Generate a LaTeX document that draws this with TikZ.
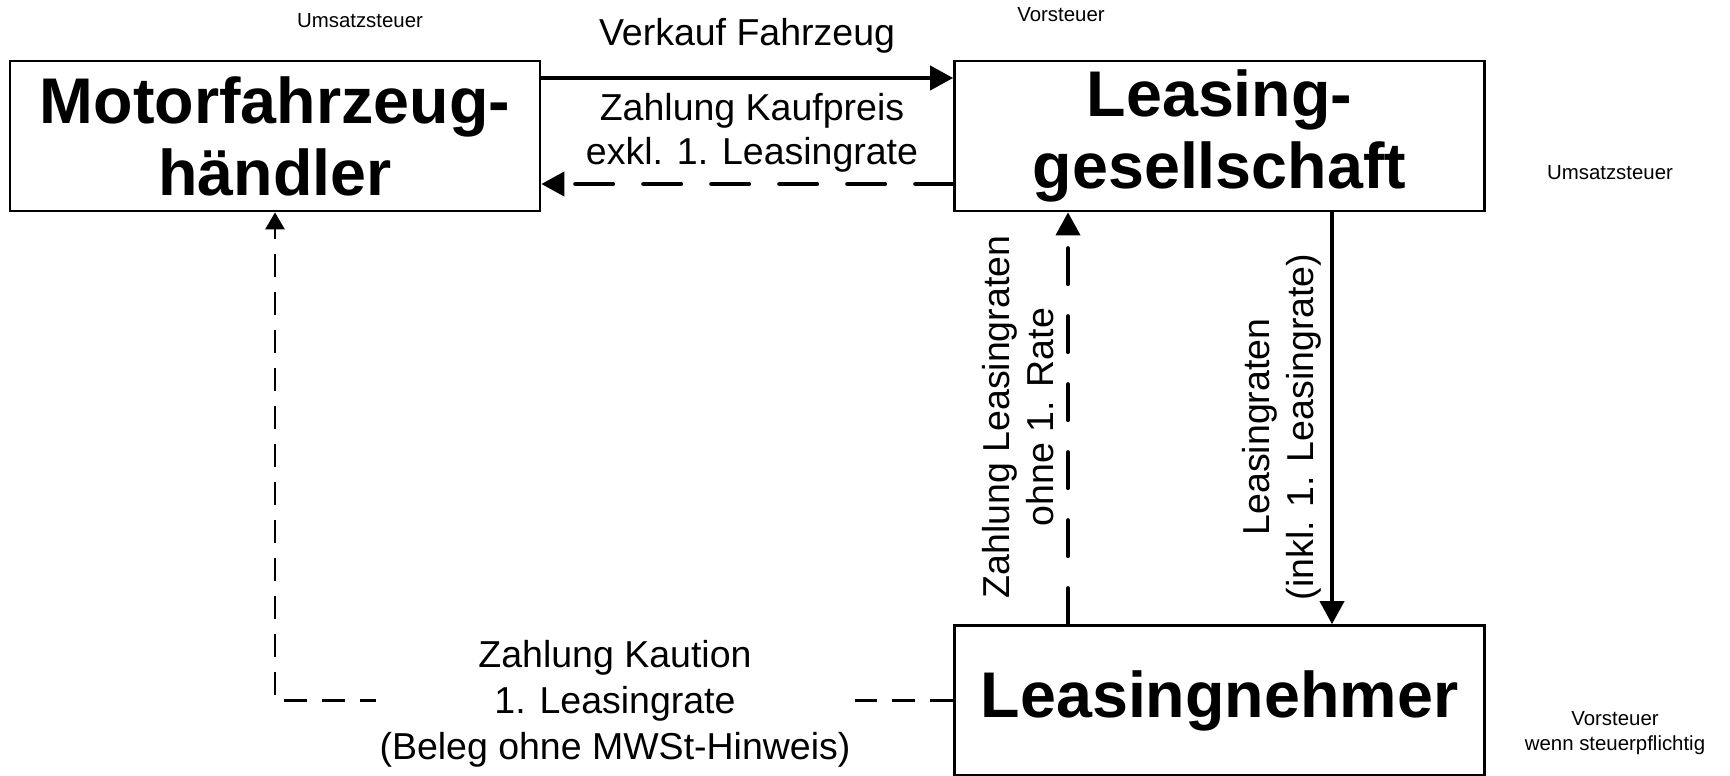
\documentclass[tikz,border=0pt]{standalone}
\usepackage{fontspec}
\setmainfont{Liberation Sans}
\usetikzlibrary{arrows.meta}

\begin{document}
\begin{tikzpicture}[x=0.5pt, y=-0.5pt,
  box/.style={draw, line width=1.35pt, minimum width=265pt, minimum height=75pt, align=center, inner sep=0pt, font=\fontsize{32.3}{36}\selectfont\bfseries},
  lbl/.style={align=center, inner sep=1pt, font=\fontsize{18.75}{22}\selectfont},
  klein/.style={align=center, inner sep=0pt, font=\fontsize{10.2}{12.5}\selectfont},
  fluss/.style={line width=2pt, -{Triangle[length=11.5pt,width=12pt]}},
  zahlung/.style={fluss, line cap=round, dash pattern=on 19pt off 15pt},
  kaution/.style={line width=1.35pt, dash pattern=on 11.5pt off 7.5pt, -{Triangle[length=8.5pt,width=9.5pt]}}]
\useasboundingbox (0,0) rectangle (1730,776);
\node[box] (haendler) at (275,136) {Motorfahrzeug-\\händler};
\node[box] (gesellschaft) at (1219.5,136) {Leasing-\\gesellschaft};
\node[box] (nehmer) at (1219.5,700.5) {Leasingnehmer};
% Steuern
\node[klein] (ust1) at (360,21) {Umsatzsteuer};
\node[klein] (vst1) at (1061,15) {Vorsteuer};
\node[klein] (ust2) at (1610,173) {Umsatzsteuer};
\node[klein] (vst2) at (1615,733) {Vorsteuer\\wenn steuerpflichtig};
% Fluesse
\draw[fluss] ([yshift=29pt]haendler.east) -- ([yshift=29pt]gesellschaft.west);
\node[lbl] (verkauf) at (747,36) {Verkauf Fahrzeug};
\draw[zahlung] ([yshift=-24pt]gesellschaft.west) -- ([yshift=-24pt]haendler.east);
\node[lbl] (kaufpreis) at (752,133) {Zahlung Kaufpreis\\exkl. 1. Leasingrate};
\draw[zahlung, dash pattern=on 18pt off 16pt] ([xshift=-75.75pt]nehmer.north) -- ([xshift=-75.75pt]gesellschaft.south);
\node[lbl, rotate=90] (raten1) at (1018,417) {Zahlung Leasingraten\\ohne 1. Rate};
\draw[fluss] ([xshift=56.25pt]gesellschaft.south) -- ([xshift=56.25pt]nehmer.north);
\node[lbl, rotate=90] (raten2) at (1282,427) {Leasingraten\\(inkl. 1. Leasingrate)};
\draw[kaution] (nehmer.west) -| (haendler.south);
\node[lbl, fill=white, inner xsep=2pt, font=\fontsize{18.75}{23}\selectfont] (kaution) at (615,704) {Zahlung Kaution\\1. Leasingrate\\(Beleg ohne MWSt-Hinweis)};
\end{tikzpicture}
\end{document}
